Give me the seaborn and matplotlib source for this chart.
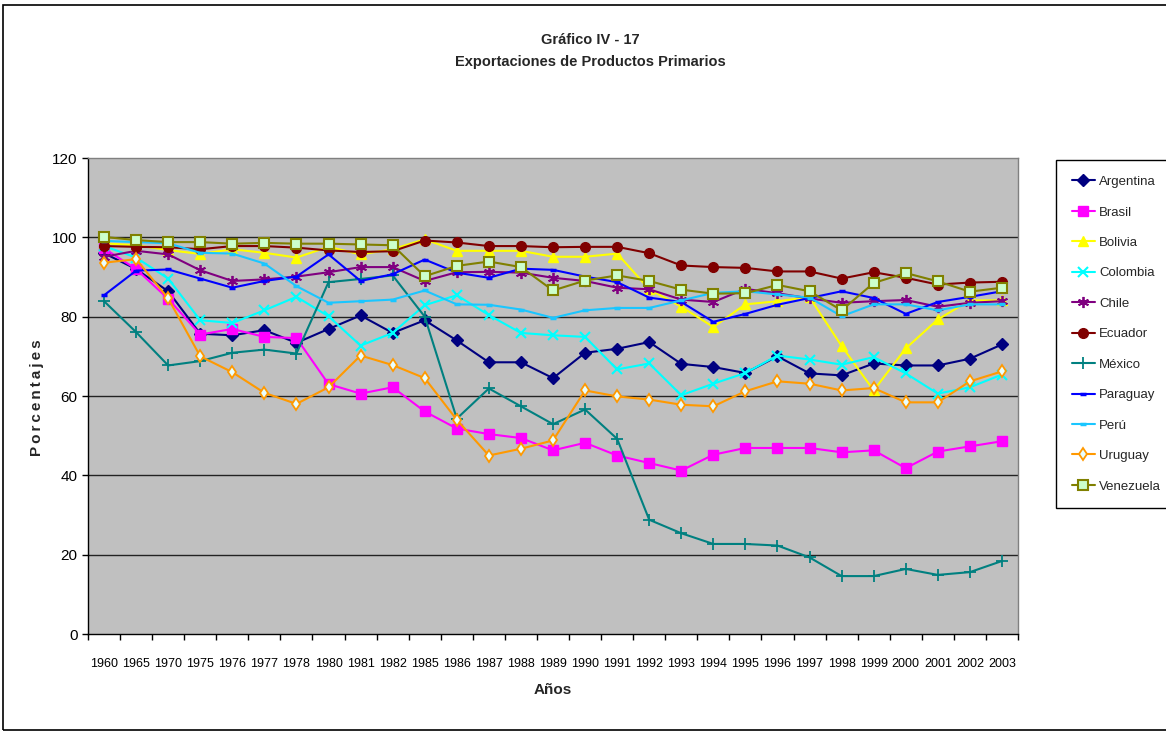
import matplotlib
matplotlib.use("Agg")
import matplotlib.pyplot as plt
from matplotlib import font_manager
from matplotlib.patches import Rectangle
from matplotlib.ticker import FixedLocator, NullFormatter
import seaborn as sns

# --- data -------------------------------------------------------------
years = ["1960", "1965", "1970", "1975", "1976", "1977", "1978", "1980", "1981",
         "1982", "1985", "1986", "1987", "1988", "1989", "1990", "1991", "1992",
         "1993", "1994", "1995", "1996", "1997", "1998", "1999", "2000", "2001",
         "2002", "2003"]

argentina = [96.0, 92.0, 86.4, 75.7, 75.3, 76.6, 73.4, 76.9, 80.3, 75.9, 79.1, 74.0,
             68.5, 68.5, 64.5, 70.9, 71.9, 73.6, 68.1, 67.3, 65.8, 70.0, 65.7, 65.2,
             68.2, 67.7, 67.7, 69.4, 73.0]
brasil = [97.2, 92.0, 84.5, 75.5, 76.9, 74.9, 74.6, 63.0, 60.6, 62.2, 56.1, 51.8,
          50.4, 49.4, 46.3, 48.2, 45.0, 43.1, 41.2, 45.2, 46.9, 46.9, 46.9, 45.8,
          46.3, 41.8, 46.0, 47.3, 48.6]
bolivia = [98.5, 98.0, 96.8, 95.8, 97.0, 96.1, 94.9, 97.6, 95.7, 97.0, 99.5, 96.6,
           96.6, 96.6, 95.1, 95.1, 95.9, 86.9, 82.5, 77.4, 83.1, 83.9, 84.9, 72.6,
           61.4, 72.0, 79.3, 84.1, 84.1]
colombia = [97.8, 94.9, 89.6, 79.1, 78.4, 81.6, 85.0, 80.1, 72.7, 75.9, 82.9, 85.4,
            80.4, 75.9, 75.3, 74.9, 66.7, 68.2, 60.2, 63.1, 65.8, 70.2, 69.2, 67.9,
            69.8, 65.7, 60.6, 62.2, 65.4]
chile = [95.1, 96.6, 95.7, 91.7, 89.0, 89.4, 90.1, 91.2, 92.5, 92.5, 89.0, 91.2,
         91.3, 91.1, 89.8, 89.0, 87.3, 86.9, 84.3, 83.7, 87.0, 85.9, 84.6, 83.5,
         83.9, 84.2, 82.5, 83.5, 83.9]
ecuador = [97.8, 97.6, 97.5, 97.0, 97.8, 97.8, 97.4, 96.7, 96.3, 96.5, 99.2, 98.7,
           97.8, 97.8, 97.5, 97.6, 97.6, 96.0, 92.9, 92.5, 92.3, 91.4, 91.4, 89.6,
           91.2, 89.8, 88.1, 88.6, 88.8]
mexico = [83.9, 76.1, 67.7, 68.8, 70.9, 71.7, 70.7, 88.7, 89.5, 90.4, 80.0, 54.3,
          61.9, 57.4, 52.9, 56.6, 49.2, 28.8, 25.4, 22.7, 22.7, 22.3, 19.3, 14.6,
          14.6, 16.4, 14.9, 15.6, 18.4]
paraguay = [85.4, 91.6, 91.9, 89.6, 87.3, 89.0, 90.1, 95.7, 89.0, 90.7, 94.4, 91.1,
            89.8, 92.1, 91.8, 90.1, 88.7, 84.8, 83.7, 78.7, 80.7, 83.0, 84.7, 86.4,
            84.7, 80.7, 83.7, 85.0, 86.4]
peru = [99.1, 98.8, 98.5, 96.1, 95.9, 93.4, 87.7, 83.5, 83.9, 84.3, 86.6, 83.1,
        83.0, 81.8, 79.7, 81.6, 82.2, 82.2, 84.1, 86.0, 86.4, 85.6, 84.8, 80.1,
        83.1, 83.1, 81.6, 83.1, 83.1]
uruguay = [93.6, 94.5, 84.6, 70.0, 66.0, 60.8, 58.0, 62.2, 70.2, 67.8, 64.5, 54.0,
           45.0, 46.7, 48.8, 61.4, 59.9, 59.1, 57.8, 57.4, 61.2, 63.7, 63.1, 61.4,
           62.0, 58.4, 58.4, 63.7, 66.2]
venezuela = [100.1, 99.3, 98.8, 98.8, 98.4, 98.6, 98.4, 98.4, 98.2, 98.0, 90.2, 92.8,
             93.9, 92.5, 86.6, 89.1, 90.4, 89.0, 86.8, 85.8, 85.9, 88.0, 86.4, 81.6,
             88.5, 91.0, 88.9, 86.3, 87.3]

y_ticks = [0, 20, 40, 60, 80, 100, 120]

# --- styling ----------------------------------------------------------
sns.set_style("white")
available = {f.name for f in font_manager.fontManager.ttflist}
base_font = "Liberation Sans" if "Liberation Sans" in available else "DejaVu Sans"
plt.rcParams["font.family"] = [base_font, "DejaVu Sans"]

# name, values, line colour, marker, marker face, marker size, edge width
series = [
    ("Argentina", argentina, "#000080", "D", "#000080", 6.0, 1.0),
    ("Brasil", brasil, "#FF00FF", "s", "#FF00FF", 6.5, 1.0),
    ("Bolivia", bolivia, "#FFFF00", "^", "#FFFF00", 7.0, 1.0),
    ("Colombia", colombia, "#00FFFF", "x", "#00FFFF", 7.0, 1.5),
    ("Chile", chile, "#800080", (6, 2, 0), "#800080", 8.0, 1.3),
    ("Ecuador", ecuador, "#800000", "o", "#800000", 7.0, 1.0),
    ("México", mexico, "#008080", "+", "#008080", 8.0, 1.3),
    ("Paraguay", paraguay, "#0000FF", "_", "#0000FF", 5.0, 2.5),
    ("Perú", peru, "#1AC6FF", "_", "#1AC6FF", 5.0, 2.5),
    ("Uruguay", uruguay, "#FF9900", "d", "#E8FFFF", 6.5, 1.3),
    ("Venezuela", venezuela, "#808000", "s", "#CCFFCC", 7.0, 1.5),
]

W, H = 1166, 732
fig = plt.figure(figsize=(W / 100, H / 100), dpi=100)
fig.patch.set_facecolor("white")

left, right, top, bottom = 88, 1018, 158, 634
ax = fig.add_axes([left / W, 1 - bottom / H, (right - left) / W, (bottom - top) / H])
ax.set_facecolor("#C0C0C0")

xpos = list(range(len(years)))
for name, vals, col, mk, face, ms, mew in series:
    sns.lineplot(x=xpos, y=vals, ax=ax, color=col, linewidth=1.5, marker=mk,
                 markersize=ms, markerfacecolor=face, markeredgecolor=col,
                 markeredgewidth=mew, label=name, sort=False, errorbar=None)

# axes, grid and ticks
ax.set_xlim(-0.5, len(years) - 0.5)
ax.set_ylim(0, 120)
ax.set_yticks(y_ticks)
ax.set_yticklabels([str(v) for v in y_ticks], fontsize=11)
for v in y_ticks[1:-1]:
    ax.axhline(v, color="#222222", linewidth=1.0, zorder=0.5)

ax.set_xticks(xpos)
ax.set_xticklabels(years, fontsize=9)
ax.xaxis.set_minor_locator(FixedLocator([i - 0.5 for i in range(len(years) + 1)]))
ax.xaxis.set_minor_formatter(NullFormatter())
ax.tick_params(axis="x", which="major", length=0, pad=17, colors="black")
ax.tick_params(axis="x", which="minor", length=4.5, width=1.0, direction="out",
               color="black", bottom=True)
ax.tick_params(axis="y", which="major", length=4.5, width=1.0, direction="out",
               pad=3, colors="black", left=True)

for side in ("left", "bottom"):
    ax.spines[side].set_color("black")
    ax.spines[side].set_linewidth(1.0)
for side in ("top", "right"):
    ax.spines[side].set_color("#808080")
    ax.spines[side].set_linewidth(1.0)

ax.set_xlabel("Años", fontsize=11, fontweight="bold")
ax.xaxis.set_label_coords(0.5, -0.102)
ax.set_ylabel("P\u2009o\u2009r\u2009c\u2009e\u2009n\u2009t\u2009a\u2009j\u2009e\u2009s",
              fontsize=11, fontweight="bold")
ax.yaxis.set_label_coords(-0.047, 0.497)

# titles
fig.text(590 / W, 1 - 40 / H, "Gráfico IV - 17", ha="center", va="center",
         fontsize=10.5, fontweight="bold")
fig.text(590 / W, 1 - 62 / H, "Exportaciones de Productos Primarios", ha="center",
         va="center", fontsize=10.5, fontweight="bold")

# legend to the right of the plot area
handles, labels = ax.get_legend_handles_labels()
ax.get_legend().remove()
leg = fig.legend(handles, labels, loc="upper left",
                 bbox_to_anchor=(1056 / W, 1 - 160 / H),
                 bbox_transform=fig.transFigure, frameon=True, fancybox=False,
                 edgecolor="black", facecolor="white", framealpha=1,
                 prop={"size": 9.5},
                 handlelength=1.75, handletextpad=0.3, labelspacing=1.38,
                 borderpad=1.2, borderaxespad=0)
leg.get_frame().set_linewidth(1.0)

# outer chart border
fig.patches.append(Rectangle((3 / W, 2 / H), 1.0, 1 - 7 / H, transform=fig.transFigure,
                             fill=False, edgecolor="black", linewidth=1.2))

fig.savefig("out.png", dpi=100, facecolor="white")
